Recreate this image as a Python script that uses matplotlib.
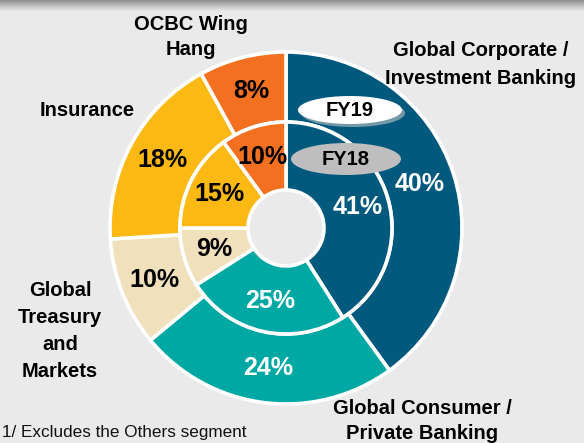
import numpy as np
import matplotlib
matplotlib.use("Agg")
import matplotlib.pyplot as plt
from matplotlib.patches import Ellipse
from matplotlib.colors import LinearSegmentedColormap

plt.rcParams["font.family"] = ["Liberation Sans", "DejaVu Sans"]

# --------------------------------------------------
# Data (clockwise from 12 o'clock)
# --------------------------------------------------
segments = [
    "Global Corporate /\nInvestment Banking",
    "Global Consumer /\nPrivate Banking",
    "Global\nTreasury\nand\nMarkets",
    "Insurance",
    "OCBC Wing\nHang",
]
fy19 = [40, 24, 10, 18, 8]   # outer ring
fy18 = [41, 25, 9, 15, 10]   # inner ring
seg_colors = ["#015A7E", "#00A8A4", "#F1E0BC", "#FDB913", "#F37021"]
pct_colors = ["white", "white", "black", "black", "black"]

# segment label anchors (pixels from top-left) and line spacing
label_pos = [(481, 64), (422, 421), (60, 331), (87, 110), (191, 37)]
label_ls = [1.6, 1.4, 1.55, 1.2, 1.45]

W, H = 584, 443
BG = "#EAEAEA"

fig = plt.figure(figsize=(W / 100, H / 100), dpi=100)
fig.patch.set_facecolor(BG)
ax = fig.add_axes([0, 0, 1, 1])
ax.set_facecolor(BG)

cx, cy = 286, H - 228
r_out, r_mid, r_hole = 176, 106, 38

wedge_kw = dict(edgecolor="white", linewidth=2.6)
outer, _ = ax.pie(fy19, radius=r_out, center=(cx, cy), startangle=90,
                  counterclock=False, colors=seg_colors,
                  wedgeprops=dict(width=r_out - r_mid, **wedge_kw))
inner, _ = ax.pie(fy18, radius=r_mid, center=(cx, cy), startangle=90,
                  counterclock=False, colors=seg_colors,
                  wedgeprops=dict(width=r_mid - r_hole, **wedge_kw))


def put_pct(wedges, vals, r):
    for w, v, c in zip(wedges, vals, pct_colors):
        mid = np.deg2rad((w.theta1 + w.theta2) / 2)
        ax.text(cx + r * np.cos(mid), cy + r * np.sin(mid), f"{v}%",
                ha="center", va="center", fontsize=18, fontweight="bold",
                color=c)


put_pct(outer, fy19, 141)
put_pct(inner, fy18, 75)

# FY19 / FY18 bubbles
ax.add_patch(Ellipse((353, H - 113), 104, 28, fc="#C4C4C4", ec="none", alpha=0.6))
ax.add_patch(Ellipse((350, H - 110), 104, 28, fc="white", ec="none"))
ax.text(350, H - 110, "FY19", ha="center", va="center", fontsize=14.5,
        fontweight="bold", color="black")
ax.add_patch(Ellipse((346, H - 159), 110, 32, fc="#BEBEBE", ec="none"))
ax.text(346, H - 159, "FY18", ha="center", va="center", fontsize=14.5,
        fontweight="bold", color="black")

# segment names
for name, (x, y), ls in zip(segments, label_pos, label_ls):
    ax.text(x, H - y, name, ha="center", va="center", fontsize=14.5,
            fontweight="bold", color="black", linespacing=ls)

ax.text(2, H - 432, "1/ Excludes the Others segment", ha="left", va="center",
        fontsize=12.3, color="#111111")

# grey shading band at the very top
band = LinearSegmentedColormap.from_list("band", ["#8E8E8E", BG])
ax.imshow(np.linspace(0, 1, 64).reshape(-1, 1), cmap=band, aspect="auto",
          extent=(0, W, H - 11, H), zorder=0)

ax.set_xlim(0, W)
ax.set_ylim(0, H)
ax.set_aspect("equal")
ax.axis("off")

fig.savefig("out.png", dpi=100, facecolor=BG)
